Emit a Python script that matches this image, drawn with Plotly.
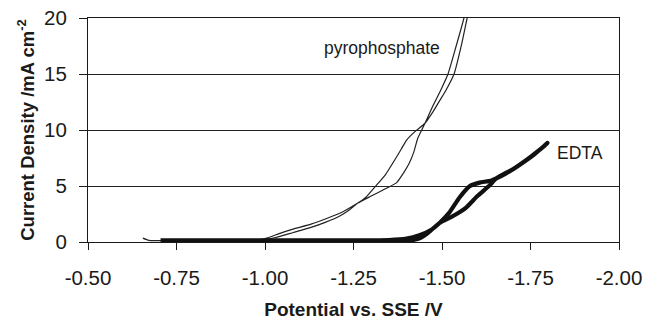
import plotly.graph_objects as go

# Pyrophosphate scan (outward then return)
pyro_x = [-0.655, -0.672, -0.75, -0.85, -0.95, -1.00, -1.03, -1.08, -1.13, -1.17, -1.21, -1.24, -1.261,
          -1.30, -1.34, -1.372, -1.392, -1.407, -1.42, -1.432, -1.452, -1.475, -1.497, -1.517, -1.54, -1.562, -1.566,
          -1.575, -1.571, -1.555, -1.534, -1.512, -1.493, -1.472, -1.452, -1.425, -1.40, -1.385, -1.366, -1.34,
          -1.31, -1.285, -1.261, -1.22, -1.174, -1.13, -1.079, -1.04, -1.01, -0.98, -0.90, -0.80, -0.72]
pyro_y = [0.35, 0.15, 0.12, 0.12, 0.15, 0.22, 0.40, 0.85, 1.30, 1.75, 2.30, 2.90, 3.45,
          4.10, 4.75, 5.30, 6.20, 7.00, 8.00, 9.30, 10.6, 12.2, 13.6, 15.0, 17.5, 20.0, 20.6,
          20.6, 20.0, 17.6, 15.0, 13.6, 12.6, 11.5, 10.6, 9.9, 9.1, 8.3, 7.3, 6.0,
          4.9, 4.0, 3.45, 2.7, 2.1, 1.6, 1.15, 0.75, 0.40, 0.20, 0.15, 0.13, 0.12]

# EDTA scan (outward then return)
edta_x = [-0.705, -0.80, -1.00, -1.20, -1.35, -1.40, -1.436, -1.47, -1.493, -1.52, -1.55, -1.579, -1.606,
          -1.64, -1.68, -1.72, -1.76, -1.798,
          -1.79, -1.75, -1.70, -1.665, -1.65, -1.636, -1.60, -1.569, -1.53, -1.493, -1.46, -1.435, -1.41,
          -1.20, -0.90, -0.72]
edta_y = [0.15, 0.15, 0.15, 0.15, 0.18, 0.30, 0.60, 1.10, 1.70, 2.60, 4.00, 5.00, 5.30,
          5.50, 6.10, 6.90, 7.80, 8.85,
          8.60, 7.60, 6.50, 5.90, 5.60, 5.10, 4.10, 3.10, 2.30, 1.70, 0.80, 0.30, 0.15,
          0.12, 0.12, 0.12]

x_ticks = [-0.50, -0.75, -1.00, -1.25, -1.50, -1.75, -2.00]
x_tick_labels = ["-0.50", "-0.75", "-1.00", "-1.25", "-1.50", "-1.75", "-2.00"]
y_ticks = [0, 5, 10, 15, 20]
y_tick_labels = ["0", "5", "10", "15", "20"]

labels = ["pyrophosphate", "EDTA"]
label_x = [-1.162, -1.818]
label_y = [17.3, 7.95]

font = "Liberation Sans, Arial, sans-serif"
ink = "#1a1a1a"

fig = go.Figure()
fig.add_trace(go.Scatter(x=pyro_x, y=pyro_y, mode="lines",
                         line=dict(color="#222222", width=1.2, shape="spline", smoothing=0.5),
                         showlegend=False))
fig.add_trace(go.Scatter(x=edta_x, y=edta_y, mode="lines",
                         line=dict(color="#111111", width=4.2, shape="spline", smoothing=0.5),
                         showlegend=False))

for t, lx, ly in zip(labels, label_x, label_y):
    fig.add_annotation(x=lx, y=ly, text=t, showarrow=False, xanchor="left", yanchor="middle",
                       font=dict(family=font, size=17.5, color=ink))

fig.update_layout(
    width=645, height=320,
    margin=dict(l=88, r=26, t=18, b=78),
    paper_bgcolor="white", plot_bgcolor="white",
    font=dict(family=font, color=ink),
)
fig.update_xaxes(
    automargin=False,
    range=[-0.5, -2.0], tickvals=x_ticks, ticktext=x_tick_labels,
    showgrid=False, zeroline=False,
    showline=True, linecolor=ink, linewidth=1, mirror=True,
    ticks="outside", ticklen=7, tickcolor=ink, tickwidth=1,
    tickfont=dict(family=font, size=20.5, color=ink),
    ticklabelstandoff=10,
    title=dict(text="<b>Potential vs. SSE /V</b>", font=dict(family=font, size=19, color=ink), standoff=20),
)
fig.update_yaxes(
    automargin=False,
    range=[0, 20], tickvals=y_ticks, ticktext=y_tick_labels,
    showgrid=True, gridcolor="#222222", gridwidth=1, zeroline=False,
    showline=True, linecolor=ink, linewidth=1, mirror=True,
    ticks="outside", ticklen=8, tickcolor=ink, tickwidth=1,
    tickfont=dict(family=font, size=20.5, color=ink),
    ticklabelstandoff=8,
    title=dict(text="<b>Current Density /mA cm<sup>-2</sup></b>", font=dict(family=font, size=18.5, color=ink), standoff=4),
)

fig.write_html("out.html", post_script="document.body.style.margin='0';",
               config={"displayModeBar": False})
